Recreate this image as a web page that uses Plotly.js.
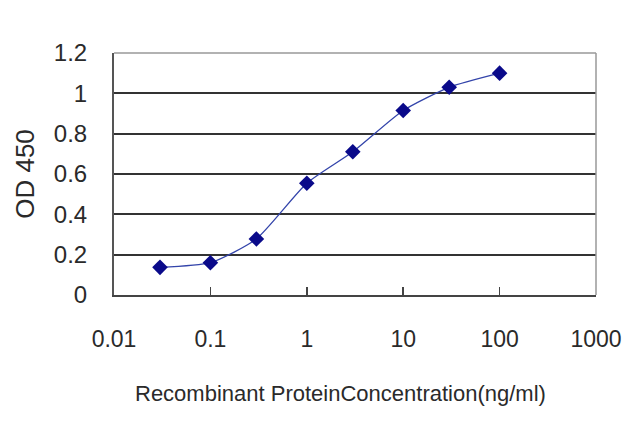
<!DOCTYPE html>
<html>
<head>
<meta charset="utf-8">
<script src="https://cdn.plot.ly/plotly-3.0.1.min.js"></script>
<style>html,body{margin:0;padding:0;background:#fff;}#chart{width:640px;height:427px;}</style>
</head>
<body>
<div id="chart"></div>
<script>
const concentration = [0.03, 0.1, 0.3, 1, 3, 10, 30, 100];
const od450 = [0.137, 0.160, 0.278, 0.554, 0.710, 0.915, 1.030, 1.100];
const xTickVals = [0.01, 0.1, 1, 10, 100, 1000];
const xTickText = ['0.01', '0.1', '1', '10', '100', '1000'];
const yTickVals = [0, 0.2, 0.4, 0.6, 0.8, 1, 1.2];
const yTickText = ['0', '0.2', '0.4', '0.6', '0.8', '1', '1.2'];
const xTitle = 'Recombinant ProteinConcentration(ng/ml)';
const yTitle = 'OD 450';

const font = 'Liberation Sans, Arial, sans-serif';
const trace = {
  x: concentration, y: od450, type: 'scatter', mode: 'lines+markers',
  line: {color: '#3344aa', width: 1.3, shape: 'spline', smoothing: 0.6},
  marker: {symbol: 'diamond', size: 12, color: '#0a0a8a', line: {width: 0}},
  hoverinfo: 'skip'
};
const layout = {
  width: 640, height: 427,
  margin: {l: 114, r: 44, t: 53, b: 132},
  paper_bgcolor: '#fff', plot_bgcolor: '#fff',
  showlegend: false,
  xaxis: {
    type: 'log', range: [-2, 3], tickvals: xTickVals, ticktext: xTickText,
    ticks: 'inside', ticklen: 8, tickwidth: 1.5, tickcolor: '#444',
    showgrid: false, zeroline: false, showline: true, linecolor: '#444', linewidth: 2,
    tickfont: {family: font, size: 23, color: '#2a2a2a'},
    ticklabelstandoff: 22,
    fixedrange: true
  },
  yaxis: {
    range: [0, 1.2], tickvals: yTickVals, ticktext: yTickText,
    ticks: '', showgrid: true, gridcolor: '#333', gridwidth: 2,
    zeroline: false, showline: true, linecolor: '#555', linewidth: 2,
    tickfont: {family: font, size: 24, color: '#2a2a2a'},
    ticklabelstandoff: 20,
    title: {text: yTitle, font: {family: font, size: 26, color: '#2a2a2a'}, standoff: 12},
    fixedrange: true
  },
  annotations: [
    {text: xTitle, xref: 'paper', yref: 'paper', x: 0.469, y: -0.405,
     xanchor: 'center', yanchor: 'middle', showarrow: false,
     font: {family: font, size: 22, color: '#2a2a2a'}}
  ],
  shapes: [
    {type: 'line', xref: 'paper', yref: 'paper', x0: 0, x1: 1, y0: 1, y1: 1, line: {color: '#999', width: 1.5}},
    {type: 'line', xref: 'paper', yref: 'paper', x0: 1, x1: 1, y0: 0, y1: 1, line: {color: '#999', width: 1.5}}
  ]
};
Plotly.newPlot('chart', [trace], layout, {staticPlot: true, displayModeBar: false});
</script>
</body>
</html>
